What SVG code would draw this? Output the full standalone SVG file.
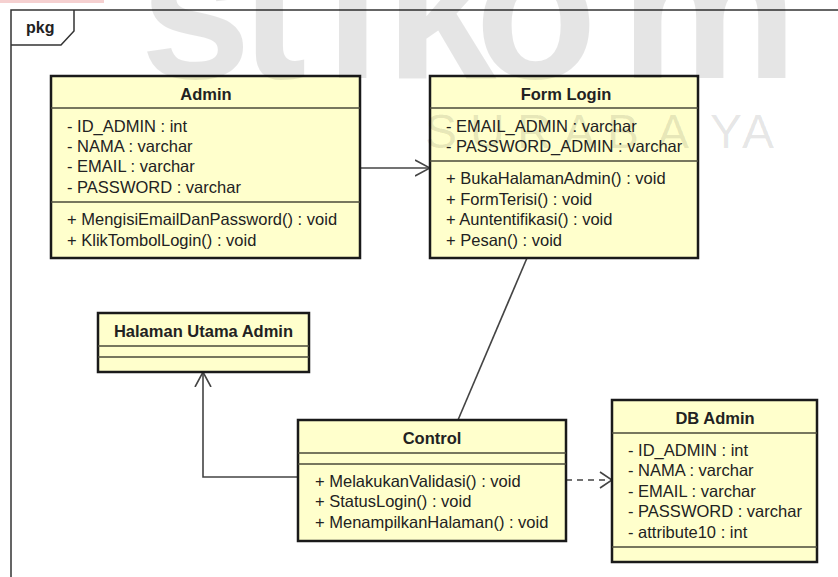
<svg xmlns="http://www.w3.org/2000/svg" width="838" height="577" viewBox="0 0 838 577">
  <defs>
    <style>
      .box { fill: #ffffcc; stroke: #1a1a1a; stroke-width: 2.5; }
      .div { stroke: #4a4a3a; stroke-width: 1.5; fill: none; }
      .txt { font-family: "Liberation Sans", Arial, sans-serif; font-size: 16.5px; fill: #222; }
      .ttl { font-family: "Liberation Sans", Arial, sans-serif; font-size: 16.5px; font-weight: bold; fill: #222; text-anchor: middle; }
      .edge { stroke: #444; stroke-width: 1.6; fill: none; }
      .dash { stroke-dasharray: 6 5; }
      .frame { stroke: #333; stroke-width: 1.5; fill: none; }
      .mark { font-family: "Liberation Sans", Arial, sans-serif; fill: #000; fill-opacity: 0.1; }
    </style>
    <marker id="open" viewBox="0 0 16 18" refX="15" refY="9" markerWidth="16" markerHeight="18" markerUnits="userSpaceOnUse" orient="auto">
      <path d="M0,1 L15,9 L0,17" fill="none" stroke="#444" stroke-width="1.6"/>
    </marker>
    <marker id="openS" viewBox="0 0 14 18" refX="13" refY="9" markerWidth="14" markerHeight="18" markerUnits="userSpaceOnUse" orient="auto">
      <path d="M1,1 L13,9 L1,17" fill="none" stroke="#444" stroke-width="1.6"/>
    </marker>
  </defs>

  <rect width="838" height="577" fill="#ffffff"/>
  <rect x="0" y="0" width="104" height="3" fill="#f5d0d0"/>

  <!-- package frame -->
  <g id="pkg">
    <path class="frame" d="M11,577 L11,10 L838,10"/>
    <path class="frame" d="M11,45 L61,45 L74,31 L74,10"/>
    <text x="26" y="33" class="txt" style="font-weight:bold;font-size:16px">pkg</text>
  </g>

  <!-- connectors -->
  <g id="connectors">
    <line class="edge" x1="360" y1="168" x2="430" y2="168" marker-end="url(#open)"/>
    <line class="edge" x1="527" y1="258" x2="458" y2="420"/>
    <polyline class="edge" points="298,477 203,477 203,372" marker-end="url(#open)"/>
    <line class="edge dash" x1="566" y1="480" x2="612" y2="480" marker-end="url(#openS)"/>
  </g>

  <g id="admin">
    <rect class="box" x="51" y="76" width="309" height="182"/>
    <line class="div" x1="51" y1="108" x2="360" y2="108"/>
    <line class="div" x1="51" y1="202" x2="360" y2="202"/>
    <text class="ttl" x="206" y="100">Admin</text>
    <text class="txt" x="67" y="132">- ID_ADMIN : int</text>
    <text class="txt" x="67" y="152">- NAMA : varchar</text>
    <text class="txt" x="67" y="172">- EMAIL : varchar</text>
    <text class="txt" x="67" y="193">- PASSWORD : varchar</text>
    <text class="txt" x="67" y="225">+ MengisiEmailDanPassword() : void</text>
    <text class="txt" x="67" y="246">+ KlikTombolLogin() : void</text>
  </g>

  <g id="form-login">
    <rect class="box" x="430" y="76" width="268" height="182"/>
    <line class="div" x1="430" y1="108" x2="698" y2="108"/>
    <line class="div" x1="430" y1="161" x2="698" y2="161"/>
    <text class="ttl" x="566" y="100">Form Login</text>
    <text class="txt" x="446" y="132">- EMAIL_ADMIN : varchar</text>
    <text class="txt" x="446" y="152">- PASSWORD_ADMIN : varchar</text>
    <text class="txt" x="446" y="184">+ BukaHalamanAdmin() : void</text>
    <text class="txt" x="446" y="205">+ FormTerisi() : void</text>
    <text class="txt" x="446" y="225">+ Auntentifikasi() : void</text>
    <text class="txt" x="446" y="246">+ Pesan() : void</text>
  </g>

  <g id="halaman-utama-admin">
    <rect class="box" x="98" y="313" width="211" height="59"/>
    <line class="div" x1="98" y1="346" x2="309" y2="346"/>
    <line class="div" x1="98" y1="357" x2="309" y2="357"/>
    <text class="ttl" x="203.5" y="337">Halaman Utama Admin</text>
  </g>

  <g id="control">
    <rect class="box" x="298" y="420" width="268" height="121"/>
    <line class="div" x1="298" y1="453" x2="566" y2="453"/>
    <line class="div" x1="298" y1="464" x2="566" y2="464"/>
    <text class="ttl" x="432" y="444">Control</text>
    <text class="txt" x="315" y="487">+ MelakukanValidasi() : void</text>
    <text class="txt" x="315" y="507">+ StatusLogin() : void</text>
    <text class="txt" x="315" y="528">+ MenampilkanHalaman() : void</text>
  </g>

  <g id="db-admin">
    <rect class="box" x="612" y="400" width="205" height="162"/>
    <line class="div" x1="612" y1="433" x2="817" y2="433"/>
    <line class="div" x1="612" y1="547" x2="817" y2="547"/>
    <text class="ttl" x="715" y="424">DB Admin</text>
    <text class="txt" x="628" y="456">- ID_ADMIN : int</text>
    <text class="txt" x="628" y="476">- NAMA : varchar</text>
    <text class="txt" x="628" y="497">- EMAIL : varchar</text>
    <text class="txt" x="628" y="517">- PASSWORD : varchar</text>
    <text class="txt" x="628" y="538">- attribute10 : int</text>
  </g>

  <!-- faint background lettering -->
  <g id="watermark">
    <text class="mark" x="140 240 325 385 475 620" y="78" style="font-size:200px;font-weight:bold">stikom</text>
    <text class="mark" x="425 470 517 563 607 657 710 742" y="148" style="font-size:48px">SURABAYA</text>
  </g>
</svg>
